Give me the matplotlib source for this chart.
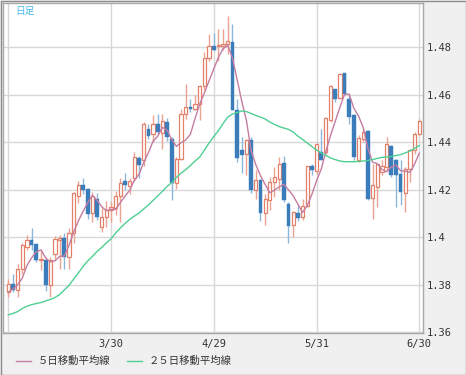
import numpy as np
import pandas as pd
import matplotlib
matplotlib.use('Agg')
import matplotlib.pyplot as plt
from matplotlib.lines import Line2D

# daily candles, 2/28 .. 6/30 (weekdays)
opens = [
    1.3767, 1.3803, 1.3777, 1.3867, 1.3959, 1.3987, 1.3969, 1.3902, 1.3902, 1.3796,
    1.3930, 1.3987, 1.3996, 1.3916, 1.4018, 1.4172, 1.4217, 1.4203, 1.4101, 1.4160,
    1.4044, 1.4086, 1.4115, 1.4122, 1.4174, 1.4235, 1.4214, 1.4250, 1.4333, 1.4325,
    1.4456, 1.4435, 1.4477, 1.4438, 1.4484, 1.4414, 1.4227, 1.4330, 1.4519, 1.4547,
    1.4540, 1.4561, 1.4634, 1.4753, 1.4804, 1.4804, 1.4806, 1.4813, 1.4821, 1.4536,
    1.4365, 1.4351, 1.4407, 1.4196, 1.4241, 1.4102, 1.4157, 1.4231, 1.4245, 1.4311,
    1.4140, 1.4051, 1.4100, 1.4083, 1.4130, 1.4300, 1.4280, 1.4358, 1.4358, 1.4492,
    1.4622, 1.4587, 1.4689, 1.4579, 1.4513, 1.4325, 1.4414, 1.4446, 1.4165, 1.4210,
    1.4273, 1.4294, 1.4382, 1.4323, 1.4266, 1.4185, 1.4287, 1.4368, 1.4432]
highs = [
    1.3824, 1.3845, 1.3888, 1.3973, 1.4008, 1.4037, 1.3973, 1.3945, 1.3909, 1.3916,
    1.4004, 1.4008, 1.4015, 1.4037, 1.4189, 1.4235, 1.4250, 1.4207, 1.4189, 1.4186,
    1.4122, 1.4150, 1.4150, 1.4193, 1.4250, 1.4268, 1.4250, 1.4356, 1.4343, 1.4484,
    1.4477, 1.4512, 1.4517, 1.4519, 1.4502, 1.4421, 1.4337, 1.4540, 1.4646, 1.4583,
    1.4600, 1.4639, 1.4779, 1.4856, 1.4859, 1.4877, 1.4877, 1.4929, 1.4896, 1.4583,
    1.4420, 1.4414, 1.4421, 1.4281, 1.4245, 1.4182, 1.4252, 1.4295, 1.4337, 1.4339,
    1.4147, 1.4110, 1.4130, 1.4160, 1.4297, 1.4308, 1.4395, 1.4456, 1.4506, 1.4639,
    1.4625, 1.4692, 1.4689, 1.4597, 1.4520, 1.4428, 1.4449, 1.4449, 1.4308, 1.4308,
    1.4323, 1.4421, 1.4386, 1.4330, 1.4323, 1.4294, 1.4372, 1.4442, 1.4496]
lows = [
    1.3746, 1.3767, 1.3746, 1.3845, 1.3945, 1.3945, 1.3895, 1.3860, 1.3774, 1.3746,
    1.3902, 1.3867, 1.3867, 1.3867, 1.3973, 1.4143, 1.4179, 1.4075, 1.4065, 1.4072,
    1.4023, 1.4044, 1.4065, 1.4094, 1.4065, 1.4200, 1.4180, 1.4235, 1.4250, 1.4300,
    1.4414, 1.4400, 1.4432, 1.4372, 1.4404, 1.4154, 1.4203, 1.4323, 1.4498, 1.4526,
    1.4533, 1.4491, 1.4618, 1.4742, 1.4783, 1.4742, 1.4786, 1.4772, 1.4533, 1.4316,
    1.4270, 1.4260, 1.4185, 1.4161, 1.4067, 1.4049, 1.4115, 1.4168, 1.4196, 1.4147,
    1.3975, 1.4001, 1.4066, 1.4072, 1.4125, 1.4259, 1.4266, 1.4323, 1.4351, 1.4484,
    1.4569, 1.4583, 1.4597, 1.4477, 1.4325, 1.4316, 1.4400, 1.4154, 1.4075, 1.4125,
    1.4259, 1.4280, 1.4252, 1.4125, 1.4135, 1.4104, 1.4231, 1.4351, 1.4428]
closes = [
    1.3803, 1.3777, 1.3867, 1.3966, 1.3987, 1.3966, 1.3902, 1.3909, 1.3796, 1.3902,
    1.3990, 1.3996, 1.3916, 1.4018, 1.4186, 1.4221, 1.4197, 1.4098, 1.4172, 1.4086,
    1.4086, 1.4112, 1.4126, 1.4174, 1.4228, 1.4221, 1.4235, 1.4335, 1.4302, 1.4477,
    1.4424, 1.4477, 1.4442, 1.4487, 1.4421, 1.4227, 1.4330, 1.4519, 1.4547, 1.4540,
    1.4561, 1.4634, 1.4753, 1.4804, 1.4786, 1.4809, 1.4813, 1.4825, 1.4536, 1.4334,
    1.4345, 1.4407, 1.4196, 1.4241, 1.4102, 1.4161, 1.4231, 1.4252, 1.4309, 1.4154,
    1.4048, 1.4104, 1.4080, 1.4130, 1.4297, 1.4283, 1.4393, 1.4325, 1.4503, 1.4635,
    1.4579, 1.4686, 1.4601, 1.4506, 1.4337, 1.4418, 1.4442, 1.4161, 1.4217, 1.4306,
    1.4297, 1.4393, 1.4259, 1.4259, 1.4189, 1.4287, 1.4368, 1.4432, 1.4489]

# first four 5-day MA points (need data before the window)
ma5_head = [1.3768, 1.3781, 1.3798, 1.3827]

# 25-day moving average
ma25 = [
    1.3672, 1.3678, 1.3686, 1.3699, 1.3709, 1.3715, 1.3720, 1.3724, 1.3731, 1.3737,
    1.3745, 1.3758, 1.3777, 1.3796, 1.3823, 1.3848, 1.3876, 1.3899, 1.3918, 1.3939,
    1.3956, 1.3975, 1.3992, 1.4017, 1.4038, 1.4057, 1.4074, 1.4088, 1.4101, 1.4118,
    1.4135, 1.4154, 1.4173, 1.4192, 1.4213, 1.4229, 1.4251, 1.4269, 1.4284, 1.4301,
    1.4320, 1.4337, 1.4366, 1.4396, 1.4423, 1.4448, 1.4478, 1.4505, 1.4518, 1.4524,
    1.4531, 1.4528, 1.4520, 1.4512, 1.4505, 1.4497, 1.4484, 1.4474, 1.4465, 1.4459,
    1.4453, 1.4442, 1.4425, 1.4411, 1.4396, 1.4381, 1.4366, 1.4354, 1.4343, 1.4333,
    1.4326, 1.4320, 1.4317, 1.4317, 1.4317, 1.4318, 1.4320, 1.4322, 1.4326, 1.4331,
    1.4335, 1.4337, 1.4339, 1.4343, 1.4347, 1.4354, 1.4362, 1.4373, 1.4385]

tick_pos = [0, 22, 44, 66, 88]
tick_labels = ['', '3/30', '4/29', '5/31', '6/30']
yticks = [1.36, 1.38, 1.40, 1.42, 1.44, 1.46, 1.48]

df = pd.DataFrame({'open': opens, 'high': highs, 'low': lows, 'close': closes})
ma5 = df['close'].rolling(5).mean()
ma5.iloc[:4] = ma5_head
x = np.arange(len(df))

up_edge = '#e4806a'
up_wick = '#eda392'
dn_body = '#3b7dbb'
dn_wick = '#8cb6dc'

fig = plt.figure(figsize=(4.66, 3.75), dpi=100, facecolor='#f0f0f0')
ax = fig.add_axes([3/466, 1 - 333/375, 420/466, 330/375])
ax.set_facecolor('white')

up = df['close'] >= df['open']
dn = ~up
ax.vlines(x[up], df['low'][up], df['high'][up], color=up_wick, lw=1, zorder=2)
ax.vlines(x[dn], df['low'][dn], df['high'][dn], color=dn_wick, lw=1, zorder=2)

body_lo = np.minimum(df['open'], df['close'])
body_h = np.maximum((df['close'] - df['open']).abs(), 0.00025)
ax.bar(x[up], body_h[up], bottom=body_lo[up], width=0.7,
       facecolor='white', edgecolor=up_edge, lw=0.9, zorder=3)
ax.bar(x[dn], body_h[dn], bottom=body_lo[dn], width=0.8,
       facecolor=dn_body, edgecolor=dn_body, lw=0.3, zorder=3)

ax.plot(x, ma5, color='#c57ca2', lw=1, zorder=4)
ax.plot(x, ma25, color='#4fcf92', lw=1, zorder=4)

ax.set_xlim(-1.13, 88.8)
ax.set_ylim(1.35958, 1.49853)
ax.set_yticks(yticks)
ax.set_yticklabels([str(round(v, 2)) for v in yticks])
ax.set_xticks(tick_pos)
ax.set_xticklabels(tick_labels)
ax.yaxis.tick_right()
ax.tick_params(length=0, labelsize=7.5, colors='#333333', pad=3)
ax.tick_params(axis='x', pad=4)
for lab in ax.get_xticklabels() + ax.get_yticklabels():
    lab.set_family('DejaVu Sans Mono')
ax.grid(True, color='#d8d8d8', lw=1, zorder=0)
ax.set_axisbelow(True)
for s in ax.spines.values():
    s.set_color('#a8a8a8')
    s.set_linewidth(1)

cjk = ['Noto Sans CJK JP', 'DejaVu Sans']
fig.text(15/466, 1 - 11/375, '日足', color='#45b8ee', fontsize=7,
         va='center', ha='left', family=cjk)

# legend row
ly = 1 - 361/375
fig.add_artist(Line2D([16/466, 31/466], [ly, ly], color='#c57ca2', lw=1))
fig.text(38/466, ly, '５日移動平均線', fontsize=7.5, va='center', ha='left',
         color='#333333', family=cjk)
fig.add_artist(Line2D([127/466, 142/466], [ly, ly], color='#4fcf92', lw=1))
fig.text(149/466, ly, '２５日移動平均線', fontsize=7.5, va='center', ha='left',
         color='#333333', family=cjk)

fig.add_artist(plt.Rectangle((0.5/466, 0.5/375), 465/466, 374/375, transform=fig.transFigure,
                             fill=False, edgecolor='#8c8c8c', lw=1))

fig.savefig('out.png', dpi=100, facecolor=fig.get_facecolor())
